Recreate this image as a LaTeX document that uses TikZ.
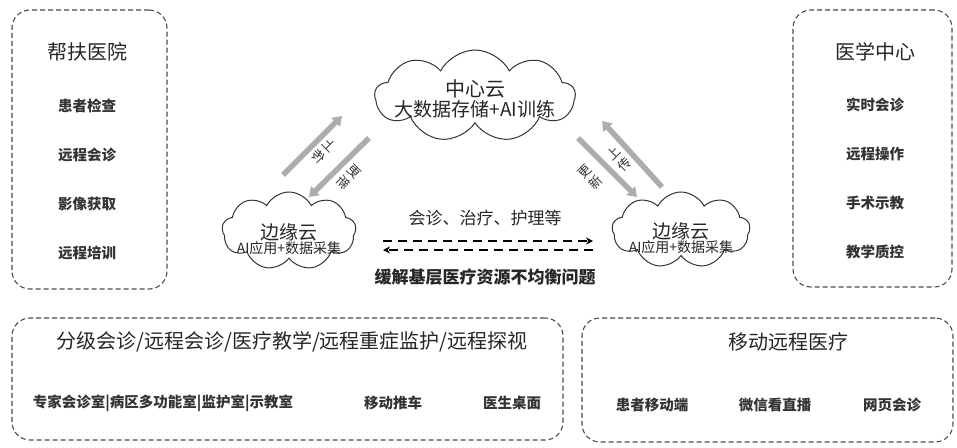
\documentclass[tikz,border=0pt]{standalone}
\usepackage{fontspec}
\setmainfont{Noto Sans CJK SC}
\usetikzlibrary{arrows.meta, positioning, shapes.symbols}
\tikzset{
  grp/.style ={rectangle, draw=black!70, line width=1.1pt,
               dash pattern=on 5pt off 3pt, rounded corners=18pt, inner sep=0pt},
  cld/.style ={cloud, cloud puffs=9, cloud puff arc=125, cloud ignores aspect,
               draw=black!80, line width=1pt, inner sep=0pt},
  cldtxt/.style ={align=center, inner sep=0pt, text=black!85},
  ttl/.style ={font=\fontsize{20}{22}\selectfont, text=black!85},
  itm/.style ={font=\fontsize{14.5}{16}\selectfont\bfseries, text=black!80},
  mid/.style ={font=\fontsize{17}{19}\selectfont, text=black!85},
  tag/.style ={font=\fontsize{13}{16}\selectfont, align=center, inner sep=0pt, text=black!80},
  gar/.style ={-{Triangle[length=9pt, width=12pt]}, line width=5.5pt, draw=black!32},
  dar/.style ={-{Stealth[length=7pt, width=7pt]}, line width=2.5pt, dash pattern=on 9pt off 6pt}
}
\begin{document}
\begin{tikzpicture}[x=1pt, y=-1pt]
  \useasboundingbox (0,0) rectangle (957,447);
  % dashed groups
  \node[grp, minimum width=155pt, minimum height=279pt] (hosp) at (89.5,149.5) {};
  \node[grp, minimum width=159pt, minimum height=277pt] (ctr) at (872.5,148.5) {};
  \node[grp, minimum width=551pt, minimum height=122pt] (fix) at (287.5,379) {};
  \node[grp, minimum width=371pt, minimum height=124pt] (mob) at (767.5,380) {};
  % left group
  \node[ttl] (hosp-t) at (87,52) {帮扶医院};
  \foreach \t [count=\i] in {患者检查, 远程会诊, 影像获取, 远程培训}
    \node[itm] (hosp-\i) at (87,57+49*\i) {\t};
  % right group
  \node[ttl] (ctr-t) at (875,52) {医学中心};
  \foreach \t [count=\i] in {实时会诊, 远程操作, 手术示教, 教学质控}
    \node[itm] (ctr-\i) at (875,56+49*\i) {\t};
  % clouds
  \node[cld, minimum width=200pt, minimum height=92pt] (core) at (475,96) {};
  \node[cldtxt] (core-t) at (475,99)
    {{\fontsize{20}{22}\selectfont 中心云}\\[1pt]{\fontsize{19}{21}\selectfont 大数据存储+AI训练}};
  \node[cld, minimum width=134pt, minimum height=78pt] (edgeL) at (289,231) {};
  \node[cldtxt] (edgeL-t) at (289,239)
    {{\fontsize{19}{20}\selectfont 边缘云}\\[0pt]{\fontsize{14}{15}\selectfont AI应用+数据采集}};
  \node[cld, minimum width=138pt, minimum height=76pt] (edgeR) at (681,230) {};
  \node[cldtxt] (edgeR-t) at (681,238)
    {{\fontsize{19}{20}\selectfont 边缘云}\\[0pt]{\fontsize{14}{15}\selectfont AI应用+数据采集}};
  % cloud links
  \coordinate (upL-s) at (283,175);  \coordinate (upL-e) at (342,116);
  \coordinate (dnL-s) at (369,138);  \coordinate (dnL-e) at (309,197);
  \coordinate (upR-s) at (662,187);  \coordinate (upR-e) at (602,121);
  \coordinate (dnR-s) at (578,138);  \coordinate (dnR-e) at (637,197);
  \draw[gar] (upL-s) -- (upL-e);
  \draw[gar] (dnL-s) -- (dnL-e);
  \draw[gar] (upR-s) -- (upR-e);
  \draw[gar] (dnR-s) -- (dnR-e);
  \node[tag, rotate=-45, xscale=-1] (upL-t) at (324,151) {上\\传};
  \node[tag, rotate=-45, xscale=-1] (dnL-t) at (349,177) {更\\新};
  \node[tag, rotate=45] (upR-t) at (619,159) {上\\传};
  \node[tag, rotate=45] (dnR-t) at (590,177) {更\\新};
  % edge to edge
  \coordinate (mid-a) at (383,241);  \coordinate (mid-b) at (593,241);
  \coordinate (mid-c) at (593,250);  \coordinate (mid-d) at (383,250);
  \draw[dar] (mid-a) -- (mid-b);
  \draw[dar] (mid-c) -- (mid-d);
  \node[mid] (care) at (485,218) {会诊、治疗、护理等};
  \node[mid, font=\fontsize{17}{19}\selectfont\bfseries] (goal) at (485,277) {缓解基层医疗资源不均衡问题};
  % bottom left group
  \node[ttl] (fix-t) at (292,342) {分级会诊/远程会诊/医疗教学/远程重症监护/远程探视};
  \node[itm] (fix-1) at (163,403) {专家会诊室|病区多功能室|监护室|示教室};
  \node[itm] (fix-2) at (393,403) {移动推车};
  \node[itm] (fix-3) at (512,403) {医生桌面};
  % bottom right group
  \node[ttl] (mob-t) at (788,342) {移动远程医疗};
  \node[itm] (mob-1) at (652,405) {患者移动端};
  \node[itm] (mob-2) at (775,405) {微信看直播};
  \node[itm] (mob-3) at (892,405) {网页会诊};
\end{tikzpicture}
\end{document}
